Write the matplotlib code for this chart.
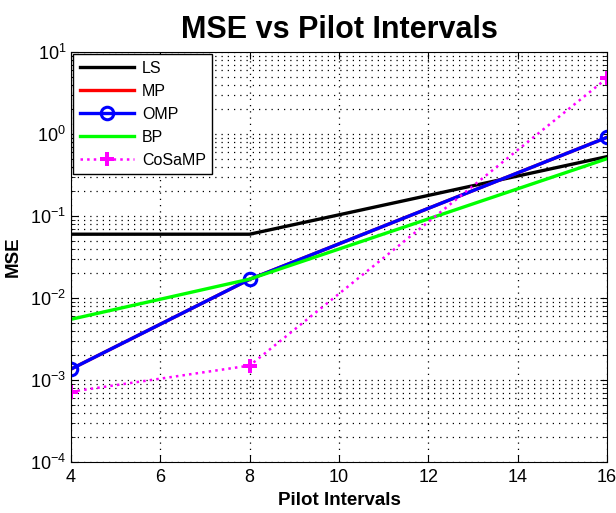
import numpy as np
import matplotlib.pyplot as plt
from matplotlib.ticker import LogLocator

plt.rcParams['font.family'] = ['Liberation Sans', 'DejaVu Sans']

intervals = [4, 8, 16]
mse_ls = [0.06, 0.06, 0.53]
mse_mp = [0.00136, 0.0169, 0.91]
mse_omp = [0.00136, 0.0169, 0.91]
mse_bp = [0.0055, 0.017, 0.50]
mse_cosamp = [0.00072, 0.0015, 4.8]

fig = plt.figure(figsize=(6.16, 5.13), dpi=100)
ax = fig.add_axes([0.1153, 0.0994, 0.8701, 0.7992])

ax.semilogy(intervals, mse_ls, color='black', lw=2.4, label='LS')
ax.semilogy(intervals, mse_mp, color='red', lw=2.4, label='MP')
ax.semilogy(intervals, mse_omp, color='blue', lw=2.4, marker='o', ms=9,
            mfc='none', mew=2.2, label='OMP')
ax.semilogy(intervals, mse_bp, color='#00ff00', lw=2.4, label='BP')
ax.semilogy(intervals, mse_cosamp, color='magenta', lw=1.8, ls=':',
            marker='P', ms=10, mew=0, label='CoSaMP')

ax.set_xlim(4, 16)
ax.set_ylim(1e-4, 1e1)
ax.set_xticks(range(4, 17, 2))
ax.yaxis.set_major_locator(LogLocator(base=10, numticks=10))
ax.yaxis.set_minor_locator(LogLocator(base=10, subs=np.arange(2, 10), numticks=20))
ax.tick_params(which='both', direction='in', top=True, right=True, labelsize=13)
ax.tick_params(which='major', length=5)
ax.tick_params(which='minor', length=3)
ax.tick_params(axis='x', pad=5)

ax.grid(which='major', axis='both', color='black', ls=(0, (1, 4)), lw=0.9)
ax.grid(which='minor', axis='y', color='black', ls=(0, (1, 4)), lw=0.9)

ax.set_xlabel('Pilot Intervals', fontsize=13.5, fontweight='bold', labelpad=4)
ax.set_ylabel('MSE', fontsize=13.5, fontweight='bold', labelpad=6)
ax.set_title('MSE vs Pilot Intervals', fontsize=22, fontweight='bold', pad=10)

leg = ax.legend(loc='upper left', fontsize=11.5, fancybox=False, framealpha=1,
                edgecolor='black', handlelength=3.4, handletextpad=0.5,
                borderaxespad=0.15, labelspacing=0.5)
leg.get_frame().set_linewidth(1.0)

fig.savefig('out.png', dpi=100)
